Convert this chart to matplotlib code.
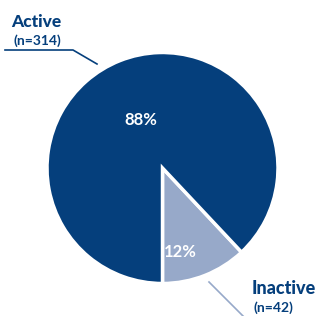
import matplotlib.pyplot as plt

labels = ['Inactive', 'Active']
counts = [42, 314]
shares = [12, 88]
colors = ['#97a9c9', '#053f7c']

W, H = 319, 316
fig = plt.figure(figsize=(W / 100, H / 100), dpi=100)
ax = fig.add_axes([0, 0, 1, 1])

plt.rcParams['font.family'] = ['Lato', 'DejaVu Sans']

cx, cy, r = 162.5, H - 168, 115.5
wedges, _ = ax.pie(shares, colors=colors, startangle=-90, counterclock=True,
                   center=(cx, cy), radius=r, frame=True,
                   wedgeprops=dict(edgecolor='white', linewidth=2.5))
ax.set_xlim(0, W)
ax.set_ylim(0, H)
ax.set_aspect('equal')
ax.axis('off')

# percentage labels inside
ax.text(cx - 22, cy + 48, f'{shares[1]}%', color='white', fontsize=12,
        fontweight='bold', ha='center', va='center')
ax.text(cx + 18, cy - 84, f'{shares[0]}%', color='white', fontsize=12,
        fontweight='bold', ha='center', va='center')

# Active label + leader
ax.text(11, H - 22, labels[1], color='#053f7c', fontsize=12.5, fontweight='black',
        ha='left', va='center')
ax.text(14, H - 41, f'(n={counts[1]})', color='#053f7c', fontsize=10,
        fontweight='bold', ha='left', va='center')
ax.plot([5, 73, 97], [H - 50, H - 50, H - 64], color='#053f7c', lw=1.2)

# Inactive label + leader
ax.text(252, H - 288, labels[0], color='#053f7c', fontsize=13, fontweight='black',
        ha='left', va='center')
ax.text(253, H - 308, f'(n={counts[0]})', color='#053f7c', fontsize=10,
        fontweight='bold', ha='left', va='center')
ax.plot([209, 243], [H - 282, H - 316], color='#97a9c9', lw=1.2)

fig.savefig('out.png', dpi=100)
